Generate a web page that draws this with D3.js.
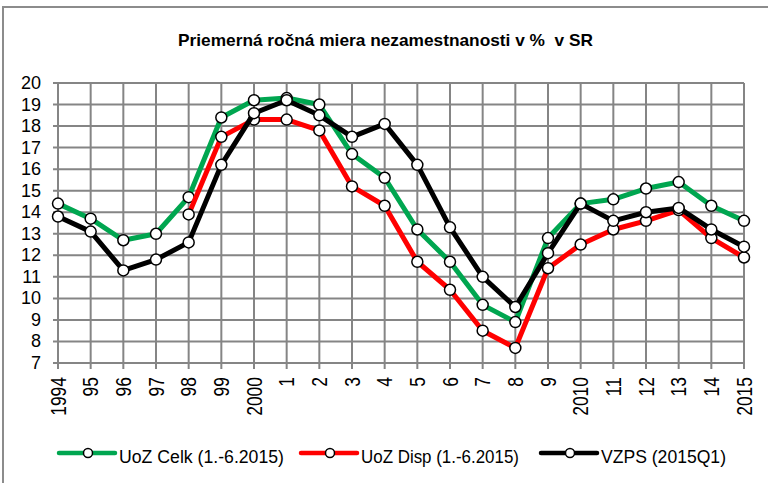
<!DOCTYPE html>
<html>
<head>
<meta charset="utf-8">
<script src="https://cdn.jsdelivr.net/npm/d3@7"></script>
<style>
  body { margin: 0; background: #fff; }
  text { font-family: "Liberation Sans", Arial, sans-serif; }
</style>
</head>
<body>
<svg width="768" height="483"></svg>
<script>
var years = ['1994','95','96','97','98','99','2000','1','2','3','4','5','6','7','8','9','2010','11','12','13','14','2015'];
var celk = [14.4,13.7,12.7,13.0,14.7,18.4,19.2,19.3,19.0,16.7,15.6,13.2,11.7,9.7,8.9,12.8,14.4,14.6,15.1,15.4,14.3,13.6];
var disp = [null,null,null,null,13.9,17.5,18.3,18.3,17.8,15.2,14.3,11.7,10.4,8.5,7.7,11.4,12.5,13.2,13.6,14.1,12.8,11.9];
var vzps = [13.8,13.1,11.3,11.8,12.6,16.2,18.6,19.2,18.5,17.5,18.1,16.2,13.3,11.0,9.6,12.1,14.4,13.6,14.0,14.2,13.2,12.4];
var yTicks = [7,8,9,10,11,12,13,14,15,16,17,18,19,20];

var series = [
  {name: 'UoZ Celk (1.-6.2015)', values: celk, color: '#00a650', lx: 59, tw: 165},
  {name: 'UoZ Disp (1.-6.2015)', values: disp, color: '#ff0000', lx: 301, tw: 158},
  {name: 'VZPS (2015Q1)', values: vzps, color: '#000000', lx: 541, tw: 125}
];

var svg = d3.select('svg');

// outer frame
svg.append('rect')
  .attr('x', 3).attr('y', 7)
  .attr('width', 800).attr('height', 500)
  .attr('fill', 'none')
  .attr('stroke', '#8c8c8c')
  .attr('stroke-width', 2);

svg.append('text')
  .attr('x', 178).attr('y', 46)
  .attr('textLength', 415)
  .attr('lengthAdjust', 'spacingAndGlyphs')
  .style('font-size', '17px')
  .style('font-weight', 'bold')
  .text('Priemerná ročná miera nezamestnanosti v %\u00a0 v SR');

var x = d3.scalePoint().domain(d3.range(years.length)).range([58, 744]);
var y = d3.scaleLinear().domain([7, 20]).range([363, 83]);

var grid = svg.append('g');
grid.selectAll('.hg').data(yTicks).enter().append('line')
  .attr('x1', 53).attr('x2', 744)
  .attr('y1', function(d) { return y(d); })
  .attr('y2', function(d) { return y(d); })
  .attr('stroke', '#858585').attr('stroke-width', 2);
grid.selectAll('.vg').data(d3.range(years.length)).enter().append('line')
  .attr('x1', function(d) { return x(d); })
  .attr('x2', function(d) { return x(d); })
  .attr('y1', 83).attr('y2', 369)
  .attr('stroke', '#858585').attr('stroke-width', 2);

svg.selectAll('.ylab').data(yTicks).enter().append('text')
  .attr('x', 41)
  .attr('y', function(d) { return y(d); })
  .attr('text-anchor', 'end')
  .attr('dominant-baseline', 'central')
  .style('font-size', '18px')
  .text(function(d) { return d; });

svg.selectAll('.xlab').data(years).enter().append('text')
  .attr('transform', function(d, i) { return 'translate(' + x(i) + ',377) rotate(-90)'; })
  .attr('text-anchor', 'end')
  .attr('dominant-baseline', 'central')
  .attr('textLength', function(d) { return d.length * 9.7; })
  .attr('lengthAdjust', 'spacingAndGlyphs')
  .style('font-size', '22px')
  .text(function(d) { return d; });

var line = d3.line()
  .defined(function(d) { return d != null; })
  .x(function(d, i) { return x(i); })
  .y(function(d) { return y(d); });

series.forEach(function(s) {
  var g = svg.append('g');
  g.append('path')
    .attr('d', line(s.values))
    .attr('fill', 'none')
    .attr('stroke', s.color)
    .attr('stroke-width', 5)
    .attr('stroke-linejoin', 'round');
  g.selectAll('circle').data(s.values.map(function(v, i) { return [i, v]; }).filter(function(d) { return d[1] != null; }))
    .enter().append('circle')
    .attr('cx', function(d) { return x(d[0]); })
    .attr('cy', function(d) { return y(d[1]); })
    .attr('r', 5.5)
    .attr('fill', '#fff')
    .attr('stroke', '#000')
    .attr('stroke-width', 1.5);

  // legend
  var ly = 453;
  svg.append('line')
    .attr('x1', s.lx).attr('x2', s.lx + 56)
    .attr('y1', ly).attr('y2', ly)
    .attr('stroke', s.color).attr('stroke-width', 4.5)
    .attr('stroke-linecap', 'round');
  svg.append('circle')
    .attr('cx', s.lx + 29).attr('cy', ly).attr('r', 4.5)
    .attr('fill', '#fff').attr('stroke', '#000').attr('stroke-width', 1.5);
  svg.append('text')
    .attr('x', s.lx + 60).attr('y', 463)
    .attr('textLength', s.tw)
    .attr('lengthAdjust', 'spacingAndGlyphs')
    .style('font-size', '18px')
    .text(s.name);
});
</script>
</body>
</html>
